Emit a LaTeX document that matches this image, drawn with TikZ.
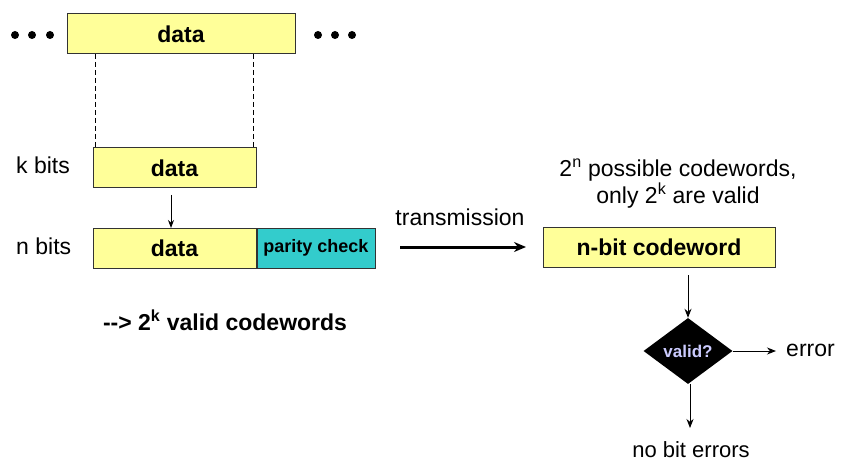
\documentclass[tikz,border=0pt]{standalone}
\usepackage{fontspec}
\setmainfont{Liberation Sans}
\usetikzlibrary{shapes.geometric,arrows.meta}
\definecolor{boxyellow}{HTML}{FFFF99}
\definecolor{boxteal}{HTML}{33CCCC}
\definecolor{lavender}{HTML}{CCCCFF}
\tikzset{
  field/.style={draw=black!80, line width=1pt, fill=boxyellow, inner sep=0pt,
    font=\fontsize{23}{26}\selectfont\bfseries},
  label/.style={inner sep=0pt, font=\fontsize{23}{26}\selectfont},
  flow/.style={-{Stealth[length=9pt,width=7pt]}, line width=1pt},
  dot/.style={circle, fill=black, inner sep=0pt, minimum size=8pt},
  guide/.style={dash pattern=on 5pt off 3pt, line width=0.8pt}
}
\begin{document}
\begin{tikzpicture}[x=1pt,y=-1pt]
\useasboundingbox (0,0) rectangle (842,470);
% stream of data with ellipses on both sides
\node[field, minimum width=228pt, minimum height=40pt] (stream) at (181,34) {data};
\foreach \x [count=\i] in {15,32,50} \node[dot] (l\i) at (\x,35) {};
\foreach \x [count=\i] in {318,335,352} \node[dot] (r\i) at (\x,35) {};
% k data bits
\node[field, minimum width=163pt, minimum height=40pt] (kdata) at (174.5,168) {data};
\node[label, anchor=west] (klab) at (16,165) {k bits};
\coordinate (s1) at (95,54);  \coordinate (d1) at (95,148);
\coordinate (s2) at (253,54); \coordinate (d2) at (253,148);
\draw[guide] (s1) -- (d1);
\draw[guide] (s2) -- (d2);
% n-bit word: data plus parity
\node[field, minimum width=163pt, minimum height=40pt] (ndata) at (174.5,248) {data};
\node[field, fill=boxteal, minimum width=118pt, minimum height=40pt, anchor=west,
  font=\fontsize{18}{20}\selectfont\bfseries] (parity) at (ndata.east) {parity check};
\node[label, anchor=west] (nlab) at (16,246) {n bits};
\coordinate (a0) at (171,195); \coordinate (a1) at (171,228);
\draw[flow, -{Stealth[length=8pt,width=6pt]}] (a0) -- (a1);
\node[label, font=\fontsize{23}{26}\selectfont\bfseries] (result) at (225,320)
  {{-}{-}> 2\textsuperscript{k} valid codewords};
% transmission
\node[field, minimum width=232pt, minimum height=40pt] (code) at (659,247) {n-bit codeword};
\coordinate (tx0) at (400,247); \coordinate (tx1) at (526,247);
\draw[-{Stealth[length=12pt,width=10pt]}, line width=3pt] (tx0) -- (tx1);
\node[label] (txlab) at (460,217) {transmission};
\node[label, align=center, font=\fontsize{23}{27}\selectfont] (note) at (678,184)
  {2\textsuperscript{n} possible codewords,\\only 2\textsuperscript{k} are valid};
% validity check
\node[diamond, fill=black, minimum width=89pt, minimum height=66pt, inner sep=0pt,
  text=lavender, font=\fontsize{17}{19}\selectfont\bfseries] (valid) at (688,351) {valid?};
\coordinate (v0) at (688,275);
\draw[flow] (v0) -- (valid.north);
\node[label, anchor=west] (err) at (786,350) {error};
\coordinate (e1) at (776,351);
\draw[flow] (valid.east) -- (e1);
\node[label, anchor=base, font=\fontsize{22}{24}\selectfont] (ok) at (691,457) {no bit errors};
\coordinate (o0) at (690,384); \coordinate (o1) at (690,428);
\draw[flow] (o0) -- (o1);
\end{tikzpicture}
\end{document}
